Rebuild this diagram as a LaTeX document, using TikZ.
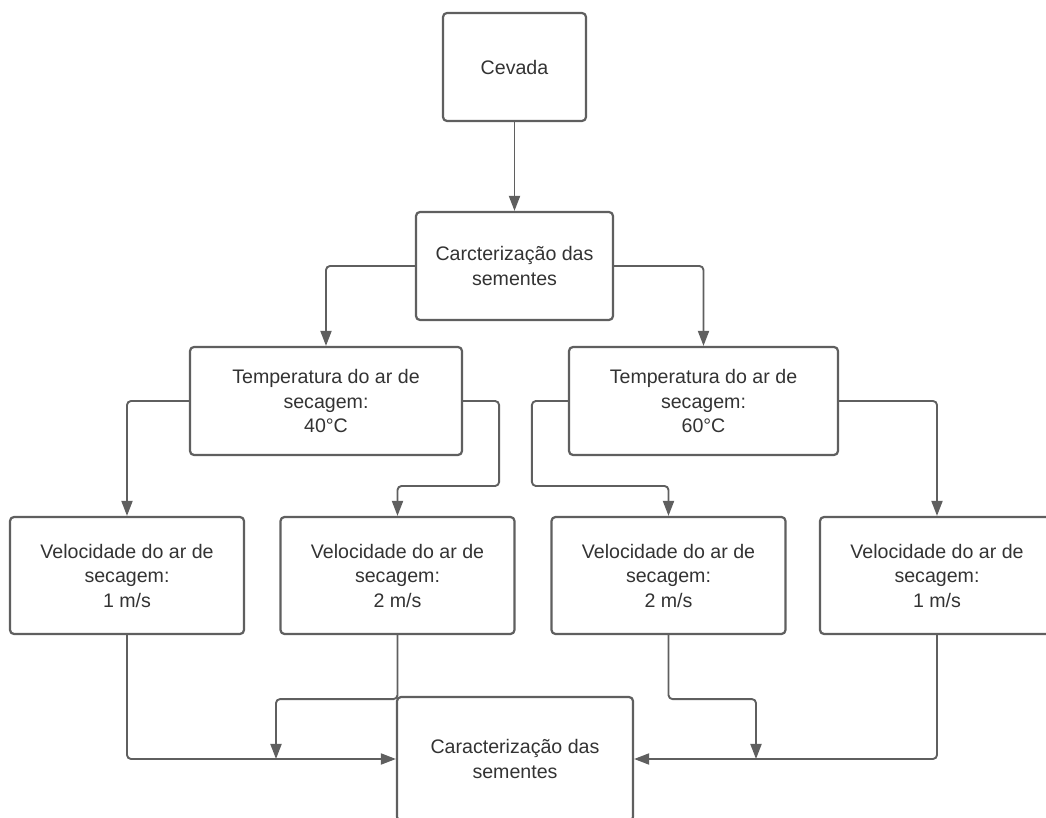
\documentclass[tikz,border=0pt]{standalone}
\usepackage{fontspec}
\setmainfont{Liberation Sans}
\usetikzlibrary{arrows.meta}
\definecolor{linha}{HTML}{5F5F5F}
\definecolor{texto}{HTML}{333333}
\begin{document}
\begin{tikzpicture}[x=0.5pt, y=-0.5pt, line join=round, line cap=round,
    >={Triangle[length=7.5pt,width=5.5pt]},
    caixa/.style={draw=linha, line width=1.1pt, rounded corners=2pt, fill=white, text=texto,
        align=center, inner sep=0pt, font=\fontsize{9.8}{12.25}\selectfont},
    topo/.style={caixa, minimum height=54pt},
    vel/.style={caixa, minimum width=117pt, minimum height=58.5pt},
    ligacao/.style={->, draw=linha, line width=0.95pt, rounded corners=2pt}]
    \useasboundingbox (0,0) rectangle (1046,818);
    \clip (0,0) rectangle (1046,818);
    % Caixas
    \node[topo, minimum width=71.5pt] (cevada) at (514.5,67) {Cevada};
    \node[topo, minimum width=98.5pt] (carac) at (514.5,266) {Carcterização das\\sementes};
    \node[topo, minimum width=136pt] (t40) at (326,401) {Temperatura do ar de\\secagem:\\40°C};
    \node[topo, minimum width=134.5pt] (t60) at (703.5,401) {Temperatura do ar de\\secagem:\\60°C};
    \node[vel] (v1) at (127,575.5) {Velocidade do ar de\\secagem:\\1 m/s};
    \node[vel] (v2) at (397.5,575.5) {Velocidade do ar de\\secagem:\\2 m/s};
    \node[vel] (v3) at (668.5,575.5) {Velocidade do ar de\\secagem:\\2 m/s};
    \node[vel] (v4) at (937,575.5) {Velocidade do ar de\\secagem:\\1 m/s};
    \node[caixa, minimum width=118pt, minimum height=62pt] (final) at (515,759) {Caracterização das\\sementes};
    \coordinate (j1) at (276,759);
    \coordinate (j2) at (756,759);
    % Ligacoes
    \draw[ligacao] (cevada.south) -- (carac.north);
    \draw[ligacao] (carac.west) -| (t40.north);
    \draw[ligacao] (carac.east) -| (t60.north);
    \draw[ligacao] (t40.west) -| (v1.north);
    \draw[ligacao] (t40.east) -- ++(36,0) -- ++(0,85) -| (v2.north);
    \draw[ligacao] (t60.west) -- ++(-36,0) -- ++(0,85) -| (v3.north);
    \draw[ligacao] (t60.east) -| (v4.north);
    \draw[ligacao] (v1.south) |- (final.west);
    \draw[ligacao] (v4.south) |- (final.east);
    \draw[ligacao] (v2.south) -- ++(0,64) -| (j1);
    \draw[ligacao] (v3.south) -- ++(0,64) -| (j2);
\end{tikzpicture}
\end{document}
